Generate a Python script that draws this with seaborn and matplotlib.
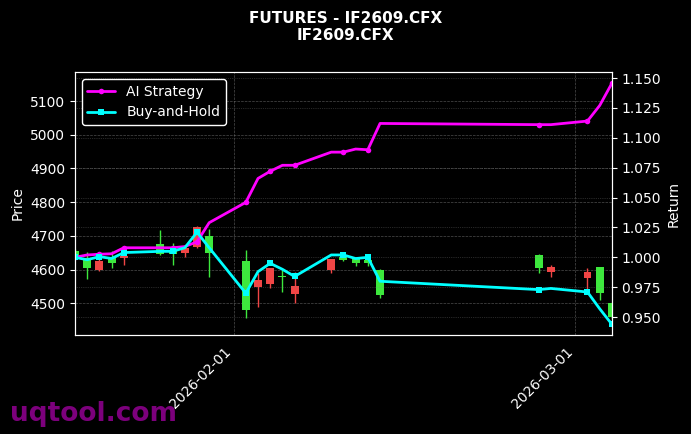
import pandas as pd
import numpy as np
import matplotlib.pyplot as plt
import matplotlib.dates as mdates
import seaborn as sns

# Datos
fechas = ["2026-01-19", "2026-01-20", "2026-01-21", "2026-01-22", "2026-01-23",
          "2026-01-26", "2026-01-27", "2026-01-28", "2026-01-29", "2026-01-30",
          "2026-02-02", "2026-02-03", "2026-02-04", "2026-02-05", "2026-02-06",
          "2026-02-09", "2026-02-10", "2026-02-11", "2026-02-12", "2026-02-13",
          "2026-02-26", "2026-02-27", "2026-03-02", "2026-03-03", "2026-03-04"]
apertura = [4655, 4634, 4598, 4637, 4634, 4676, 4658, 4649, 4667, 4700,
            4625, 4548, 4557, 4581, 4527, 4598, 4637, 4634, 4628, 4598,
            4643, 4593, 4575, 4607, 4501]
cierre = [4640, 4604, 4625, 4619, 4640, 4646, 4646, 4664, 4726, 4649,
          4480, 4569, 4604, 4578, 4551, 4631, 4628, 4619, 4619, 4524,
          4604, 4607, 4593, 4530, 4459]
maximo = [4660, 4652, 4652, 4655, 4642, 4717, 4679, 4668, 4729, 4720,
          4658, 4590, 4606, 4598, 4593, 4633, 4642, 4636, 4631, 4601,
          4645, 4613, 4604, 4607, 4505]
minimo = [4635, 4572, 4595, 4605, 4613, 4644, 4613, 4638, 4664, 4578,
          4456, 4489, 4545, 4533, 4500, 4590, 4625, 4610, 4610, 4515,
          4590, 4578, 4533, 4510, 4455]
retorno_ai = [1.000, 1.002, 1.0026, 1.003, 1.008, 1.008, 1.008, 1.009, 1.013, 1.029,
              1.046, 1.066, 1.072, 1.077, 1.077, 1.088, 1.088, 1.0906, 1.090, 1.112,
              1.111, 1.111, 1.114, 1.127, 1.1456]
retorno_bh = [1.000, 0.998, 1.0006, 0.999, 1.004, 1.005, 1.005, 1.008, 1.021, 1.008,
              0.970, 0.988, 0.995, 0.990, 0.984, 1.002, 1.002, 0.999, 1.000, 0.980,
              0.973, 0.974, 0.971, 0.957, 0.944]

df = pd.DataFrame({"fecha": pd.to_datetime(fechas), "open": apertura, "close": cierre,
                   "high": maximo, "low": minimo, "ai": retorno_ai, "bh": retorno_bh})

plt.style.use("dark_background")
sns.set_style("dark", {"axes.facecolor": "black", "figure.facecolor": "black"})
plt.rcParams["font.family"] = ["DejaVu Sans"]

fig = plt.figure(figsize=(6.91, 4.34), dpi=100)
ax = fig.add_axes([0.1085, 0.228, 0.777, 0.606])
ax.set_facecolor("black")

# Velas: rojo sube, verde baja
colores = np.where(df["close"] >= df["open"], "#f04545", "#3de83d")
ax.vlines(df["fecha"], df["low"], df["high"], colors=colores, linewidth=1)
ax.bar(df["fecha"], (df["close"] - df["open"]).abs().clip(lower=1.5),
       bottom=np.minimum(df["open"], df["close"]), width=0.65, color=colores,
       edgecolor="none", linewidth=0)

ax.set_ylim(4406, 5186)
ax.set_yticks(range(4500, 5101, 100))
ax.set_ylabel("Price", color="white")
ax.grid(True, color="gray", linestyle="--", linewidth=0.5, alpha=0.6)

ax2 = ax.twinx()
sns.lineplot(data=df, x="fecha", y="ai", ax=ax2, color="#ff00ff", linewidth=2,
             marker="o", markersize=4, markevery=2, markeredgewidth=0, label="AI Strategy")
sns.lineplot(data=df, x="fecha", y="bh", ax=ax2, color="#00ffff", linewidth=2,
             marker="s", markersize=4, markevery=2, markeredgewidth=0, label="Buy-and-Hold")
ax2.set_ylim(0.935, 1.155)
ax2.set_yticks(np.arange(0.95, 1.151, 0.025))
ax2.set_ylabel("Return", color="white")
ax2.set_xlabel("")
ax2.grid(True, axis="y", color="gray", linestyle=":", linewidth=0.5, alpha=0.6)
ax2.legend(loc="upper left", facecolor="black", edgecolor="white", framealpha=1,
           labelcolor="white")

ax.set_xlim(pd.Timestamp("2026-01-19"), pd.Timestamp("2026-03-04"))
ax.xaxis.set_major_locator(mdates.MonthLocator())
ax.xaxis.set_major_formatter(mdates.DateFormatter("%Y-%m-%d"))
plt.setp(ax.get_xticklabels(), rotation=45, ha="right")
for a in (ax, ax2):
    for s in a.spines.values():
        s.set_color("white")
    a.tick_params(colors="white")

fig.suptitle("FUTURES - IF2609.CFX\nIF2609.CFX", fontsize=11, fontweight="bold",
             color="white", y=0.975)
fig.text(0.014, 0.03, "uqtool.com", fontsize=19, fontweight="bold", color="#8b008b",
         alpha=0.9)

fig.savefig("out.png", dpi=100, facecolor="black")
